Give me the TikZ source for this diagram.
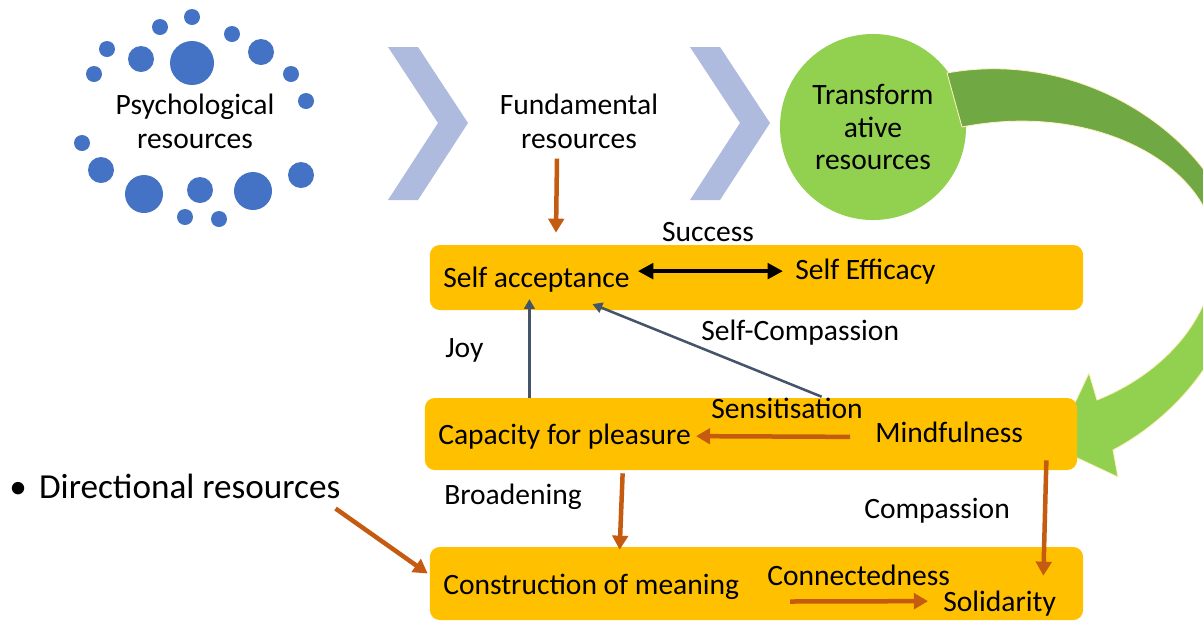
\documentclass[tikz,border=0pt]{standalone}
\usepackage{fontspec}
\setmainfont{Carlito}
\usetikzlibrary{arrows.meta,calc}

\definecolor{dotblue}{HTML}{4472C4}
\definecolor{chevron}{HTML}{AEBADE}
\definecolor{grlight}{HTML}{92D050}
\definecolor{grdark}{HTML}{70A843}
\definecolor{paleedge}{HTML}{FFF0C0}
\definecolor{boxgold}{HTML}{FFC000}
\definecolor{arrorange}{HTML}{C55A11}
\definecolor{slate}{HTML}{44546A}

\pgfdeclareverticalshading{greenband}{100bp}{color(0bp)=(grlight); color(47bp)=(grlight); color(57bp)=(grdark); color(100bp)=(grdark)}

\tikzset{
    lbl/.style={font=\fontsize{21}{24}\selectfont, inner sep=0pt},
    resbox/.style={fill=boxgold, rounded corners=7pt, minimum width=16.325cm},
    flow/.style={draw=arrorange, line width=3.2pt, -{Triangle[length=10pt,width=11pt]}},
    link/.style={draw=slate, line width=1.8pt, -{Triangle[length=7pt,width=7.5pt]}},
    both/.style={line width=2.8pt, {Triangle[length=11pt,width=11pt]}-{Triangle[length=11pt,width=11pt]}}
}

\begin{document}
\begin{tikzpicture}[x=0.025cm, y=-0.025cm]
    \useasboundingbox (0,0) rectangle (1203,621);

    % ring of bubbles
    \foreach \x/\y/\r in {192/63/22, 141/59/13, 107/49/8, 94/74/8, 160/27/8, 192/17/8,
        232/34/8, 261/52/13, 291/74/8, 306/101/8, 82/143/8, 101/170/13, 144/194/19,
        200/190/13, 253/191/19, 301/175/13, 185/217/8, 219/219/8}
        \fill[dotblue] (\x,\y) circle (\r);
    \node[lbl, align=center] (psych) at (195,121) {Psychological\\resources};

    \fill[chevron] (388,47) -- (418,47) -- (468,123) -- (418,200) -- (388,200) -- (438,123) -- cycle;
    \fill[chevron] (690,47) -- (720,47) -- (770,123) -- (720,200) -- (690,200) -- (740,123) -- cycle;
    \node[lbl, align=center] (fund) at (579,121) {Fundamental\\resources};

    \node[circle, fill=grlight, minimum size=4.65cm, inner sep=0pt, align=center,
        font=\fontsize{21}{23}\selectfont] (trans) at (873,127) {Transform\\ative\\resources};

    % curved arrow back down to mindfulness
    \begin{scope}
        \clip (0,0) rectangle (1203,621);
        \shadedraw[shading=greenband, draw=paleedge, line width=0.6pt]
            (962,127) .. controls (1100,100) and (1215,170) .. (1215,250)
            .. controls (1215,320) and (1160,375) .. (1097,400)
            -- (1089,373) -- (1054,447) -- (1118,477) -- (1113,450)
            .. controls (1170,420) and (1235,355) .. (1240,265)
            .. controls (1240,160) and (1100,45) .. (947,73) -- cycle;
    \end{scope}

    \node[resbox, minimum height=1.625cm] (topbox) at (756.5,277.5) {};
    \node[resbox, minimum height=1.8cm, minimum width=16.3cm] (midbox) at (751,434) {};
    \node[resbox, minimum height=1.825cm] (botbox) at (756.5,583.5) {};

    \node[lbl, anchor=base] (success) at (708,241) {Success};
    \node[lbl, anchor=base west] (accept) at (443,287) {Self acceptance};
    \node[lbl, anchor=base west] (efficacy) at (795,279) {Self Efficacy};
    \node[lbl, anchor=base west] (selfcomp) at (701,340) {Self-Compassion};
    \node[lbl, anchor=base west] (joy) at (445,357) {Joy};
    \node[lbl, anchor=base west] (sens) at (711,418) {Sensitisation};
    \node[lbl, anchor=base west] (pleasure) at (438,444) {Capacity for pleasure};
    \node[lbl, anchor=base west] (mind) at (875,442) {Mindfulness};
    \node[lbl, anchor=base west] (broad) at (444,504) {Broadening};
    \node[lbl, anchor=base west] (compass) at (864,518) {Compassion};
    \node[lbl, anchor=base west] (meaning) at (443,594) {Construction of meaning};
    \node[lbl, anchor=base west] (connect) at (767,585) {Connectedness};
    \node[lbl, anchor=base west] (solid) at (943,611) {Solidarity};
    \node[lbl, anchor=base west, font=\fontsize{25}{28}\selectfont] (direct) at (9,498) {•\hspace{0.35em}Directional resources};

    \draw[flow] ($(fund.south)+(-22,10)$) -- ($(fund.south |- topbox.north)+(-23,-12)$);
    \draw[both] ($(accept.east |- efficacy.west)+(8,0)$) -- ($(efficacy.west)+(-12,0)$);
    \draw[link] ($(midbox.north -| accept.south)+(-7,0)$) -- ($(accept.south)+(-7,7)$);
    \draw[link] ($(midbox.north west)+(397,-1)$) -- ($(accept.south)+(56,12)$);
    \draw[flow] ($(mind.west)+(-25,5)$) -- ($(pleasure.east)+(5,0)$);
    \draw[flow] ($(midbox.south west)+(198,3)$) -- ($(botbox.north west)+(190,3)$);
    \draw[flow] ($(midbox.south east)+(-31,-10)$) -- ($(botbox.north east)+(-40,29)$);
    \draw[flow] ($(connect.south west)+(23,16)$) -- ($(solid.west)+(-15,-2)$);
    \draw[flow] ($(direct.south east)+(-5,10)$) -- ($(botbox.west)+(-2,-10)$);
\end{tikzpicture}
\end{document}
